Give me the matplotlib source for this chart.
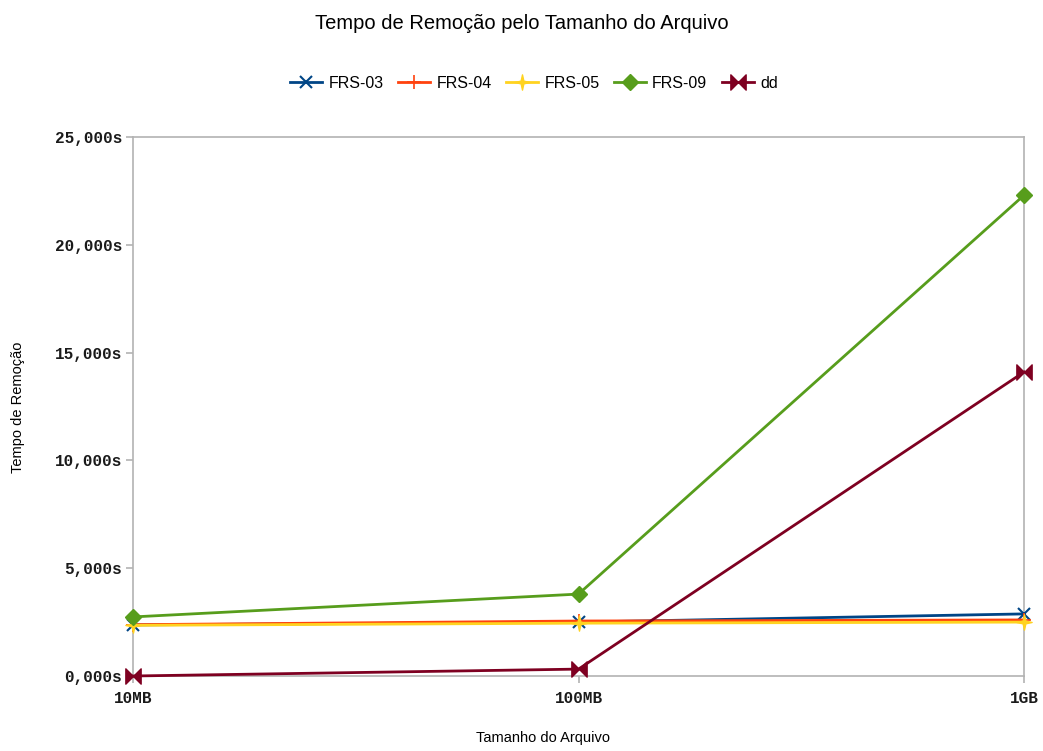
import matplotlib
matplotlib.use("Agg")
import matplotlib.pyplot as plt
from matplotlib.path import Path
from matplotlib.ticker import FuncFormatter

# Data (seconds)
categories = ["10MB", "100MB", "1GB"]
frs03 = [2.37, 2.50, 2.88]
frs04 = [2.38, 2.55, 2.60]
frs05 = [2.35, 2.45, 2.50]
frs09 = [2.74, 3.80, 22.30]
dd = [0.0, 0.32, 14.10]
yticks = [0, 5, 10, 15, 20, 25]

# Bow-tie marker: two triangles meeting at the centre
bowtie = Path(
    [(-1, -1), (-1, 1), (0, 0), (1, 1), (1, -1), (0, 0), (-1, -1)],
    [Path.MOVETO, Path.LINETO, Path.LINETO, Path.LINETO, Path.LINETO, Path.LINETO, Path.CLOSEPOLY],
)
star4 = Path(
    [(0, 1), (0.18, 0.18), (1, 0), (0.18, -0.18), (0, -1), (-0.18, -0.18), (-1, 0), (-0.18, 0.18), (0, 1)],
    [Path.MOVETO] + [Path.LINETO] * 7 + [Path.CLOSEPOLY],
)

series = [
    ("FRS-03", frs03, "#004586", "x", 9, 1.5),
    ("FRS-04", frs04, "#ff420e", "+", 10, 1.2),
    ("FRS-05", frs05, "#ffd320", star4, 11, 1.0),
    ("FRS-09", frs09, "#579d1c", "D", 8, 1.0),
    ("dd", dd, "#7e0021", bowtie, 11, 1.0),
]

plt.rcParams["font.family"] = ["Liberation Sans", "DejaVu Sans"]

fig = plt.figure(figsize=(10.43, 7.51), dpi=100)
ax = fig.add_axes([133 / 1043, 75 / 751, 891 / 1043, 539 / 751])

x = list(range(len(categories)))
for name, vals, color, marker, ms, mew in series:
    ax.plot(x, vals, color=color, linewidth=2, marker=marker, markersize=ms,
            markeredgewidth=mew, markerfacecolor=color, markeredgecolor=color,
            label=name, clip_on=False, zorder=3)

ax.set_xlim(0, 2)
ax.set_ylim(0, 25)
ax.set_xticks(x)
ax.set_xticklabels(categories)
ax.set_yticks(yticks)
ax.yaxis.set_major_formatter(FuncFormatter(lambda v, p: f"{v:.3f}".replace(".", ",") + "s"))

for lbl in ax.get_xticklabels() + ax.get_yticklabels():
    lbl.set_fontfamily("Liberation Mono")
    lbl.set_fontsize(11.5)
    lbl.set_fontweight("bold")
    lbl.set_color("#1a1a1a")

for sp in ax.spines.values():
    sp.set_color("#b3b3b3")
    sp.set_linewidth(1.2)
ax.tick_params(axis="both", direction="out", length=5, width=1.2, color="#b3b3b3")
ax.tick_params(axis="x", pad=6)
ax.tick_params(axis="y", pad=3)

# Axis titles placed in figure coordinates
fig.text(543 / 1043, 1 - 738 / 751, "Tamanho do Arquivo", fontsize=10.5,
         ha="center", va="center")
fig.text(18 / 1043, 1 - 407 / 751, "Tempo de Remoção", fontsize=10.5,
         ha="center", va="center", rotation=90)

fig.suptitle("Tempo de Remoção pelo Tamanho do Arquivo", fontsize=14.5, y=0.982)
fig.legend(loc="upper center", bbox_to_anchor=(0.512, 0.918), ncol=5, frameon=False,
           fontsize=11.5, handlelength=2.0, columnspacing=0.9, handletextpad=0.4)

fig.savefig("out.png", dpi=100)
